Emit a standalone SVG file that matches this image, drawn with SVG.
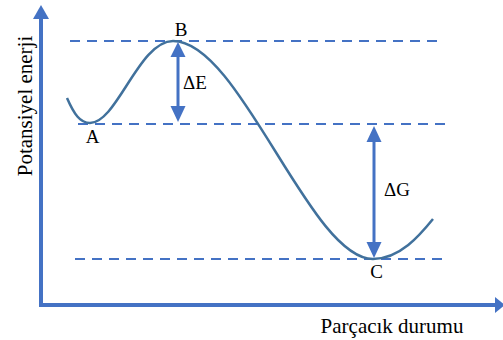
<svg xmlns="http://www.w3.org/2000/svg" width="503" height="340" viewBox="0 0 503 340">
<style>
.dash{stroke:#4472C4;stroke-width:2;stroke-dasharray:10 7;fill:none}
.ax{stroke:#4472C4;stroke-width:4;fill:none}
.arr{stroke:#4472C4;stroke-width:3;fill:none}
.head{fill:#4472C4}
.curve{stroke:#41719C;stroke-width:2.5;fill:none}
text{font-family:"Liberation Serif","Times New Roman",serif;fill:#000}
.lbl{font-size:19px}
.axl{font-size:21px}
</style>
<rect width="503" height="340" fill="#fff"/>
<g id="axes">
<path class="ax" d="M41,18 V305 H497"/>
<polygon class="head" points="41,5 33,19 49,19"/>
<polygon class="head" points="505,305 495,297 495,313"/>
<text class="axl" transform="translate(31.5,106) rotate(-90)" text-anchor="middle">Potansiyel enerji</text>
<text class="axl" x="392" y="333" text-anchor="middle">Parçacık durumu</text>
</g>
<g id="levels">
<line class="dash" x1="70" y1="41" x2="440" y2="41"/>
<line class="dash" x1="78" y1="124" x2="447" y2="124"/>
<line class="dash" x1="75" y1="259" x2="443" y2="259"/>
</g>
<g id="curve">
<path class="curve" d="M67,98 C74,114 80,123 90,123 C117,123 139,41 173,41 C240,41 310,259 373,259 C400,259 420,235 433,219"/>
</g>
<g id="node-A"><text class="lbl" x="92.5" y="143" text-anchor="middle">A</text></g>
<g id="node-B"><text class="lbl" x="181" y="36" text-anchor="middle">B</text></g>
<g id="node-C"><text class="lbl" x="376.5" y="278" text-anchor="middle">C</text></g>
<g id="connectors">
<g id="dE">
<line class="arr" x1="178" y1="55" x2="178" y2="108"/>
<polygon class="head" points="178,42 170.5,57 185.5,57"/>
<polygon class="head" points="178,122 170.5,106 185.5,106"/>
<text class="lbl" x="183" y="89">ΔE</text>
</g>
<g id="dG">
<line class="arr" x1="374" y1="140" x2="374" y2="244"/>
<polygon class="head" points="374,126 366.5,142 381.5,142"/>
<polygon class="head" points="374,258 366.5,242 381.5,242"/>
<text class="lbl" x="384" y="196">ΔG</text>
</g>
</g>
</svg>
